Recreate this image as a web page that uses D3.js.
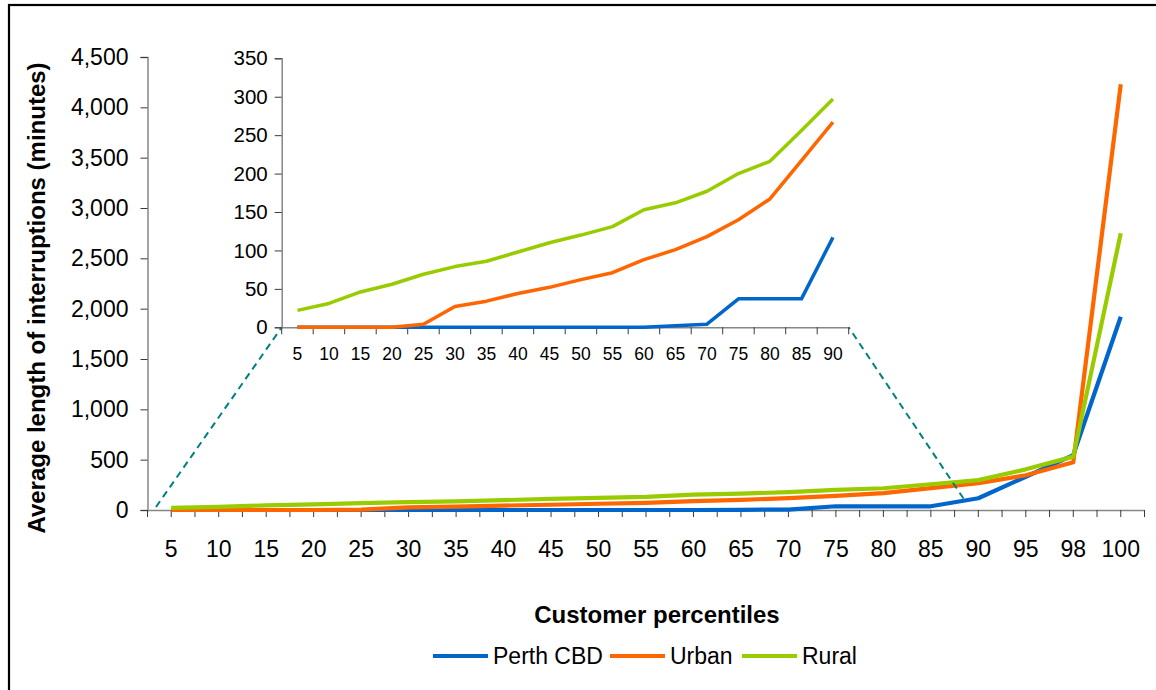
<!DOCTYPE html>
<html>
<head>
<meta charset="utf-8">
<script src="https://cdn.jsdelivr.net/npm/d3@7"></script>
<style>
  body { margin: 0; background: #fff; }
  svg { display: block; font-family: "Liberation Sans", Arial, sans-serif; }
</style>
</head>
<body>
<svg id="chart" width="1156" height="690"></svg>
<script>
// Customer percentiles (x categories)
const percentiles = ["5","10","15","20","25","30","35","40","45","50","55","60","65","70","75","80","85","90","95","98","100"];
// Average length of interruptions, minutes
const perthCBD = [0,0,0,0,0,0,0,0,0,0,0,0,2,4,37,37,37,117,330,546,1920];
const urban    = [0,0,0,0,4,27,34,44,52,62,71,88,101,118,140,167,217,267,345,474,4230];
const rural    = [22,31,46,56,69,79,86,98,110,120,131,153,162,177,200,216,256,297,404,530,2749];

const mainTicks  = [0,500,1000,1500,2000,2500,3000,3500,4000,4500];
const insetTicks = [0,50,100,150,200,250,300,350];
const insetCount = 18; // zoomed view covers percentiles 5 to 90

const series = [
  { name: "Perth CBD", values: perthCBD, color: "#0066CC" },
  { name: "Urban",     values: urban,    color: "#FF6600" },
  { name: "Rural",     values: rural,    color: "#99CC00" }
];

const svg = d3.select("#chart");
const axisGrey = "#868686";
const tickDark = "#3a3a3a";

// outer frame
svg.append("rect").attr("x", 9).attr("y", 5).attr("width", 1300).attr("height", 900)
  .attr("fill", "none").attr("stroke", "#000").attr("stroke-width", 2.2);

// ---------- main chart ----------
const x = d3.scaleBand().domain(percentiles).range([147.5, 1144.5]).padding(0);
const y = d3.scaleLinear().domain([0, 4500]).range([510, 57]);
const cx = d => x(d) + x.bandwidth() / 2;

const main = svg.append("g");

// y axis
const yAx = main.append("g").attr("transform", `translate(${x.range()[0]},0)`)
  .call(d3.axisLeft(y).tickValues(mainTicks).tickFormat(d3.format(",")).tickSize(7).tickPadding(12));
yAx.select(".domain").attr("stroke", axisGrey).attr("stroke-width", 1.5);
yAx.selectAll(".tick line").attr("stroke", tickDark);
yAx.selectAll("text").attr("font-size", 23).attr("fill", "#000").attr("font-family", "Liberation Sans, Arial, sans-serif");

// x axis: ticks at category centres and boundaries
const xAx = main.append("g").attr("transform", `translate(0,${y(0)})`)
  .call(d3.axisBottom(x).tickSize(0).tickPadding(31));
xAx.select(".domain").attr("stroke", axisGrey).attr("stroke-width", 1.5);
xAx.selectAll("text").attr("font-size", 23).attr("fill", "#000").attr("font-family", "Liberation Sans, Arial, sans-serif");
const tickPos = [];
percentiles.forEach(p => { tickPos.push(x(p)); tickPos.push(cx(p)); });
tickPos.push(x.range()[1]);
main.append("g").selectAll("line").data(tickPos).join("line")
  .attr("x1", d => d).attr("x2", d => d).attr("y1", y(0)).attr("y2", y(0) + 7)
  .attr("stroke", tickDark).attr("stroke-width", 1);

// series lines
const lineMain = d3.line().x((d, i) => cx(percentiles[i])).y(d => y(d));
main.selectAll("path.series").data(series).join("path")
  .attr("class", "series")
  .attr("d", s => lineMain(s.values))
  .attr("fill", "none").attr("stroke", s => s.color)
  .attr("stroke-width", 4.2).attr("stroke-linejoin", "round");

// ---------- inset (percentiles 5 to 90) ----------
const insetCats = percentiles.slice(0, insetCount);
const xi = d3.scaleBand().domain(insetCats).range([281.7, 848.7]).padding(0);
const yi = d3.scaleLinear().domain([0, 350]).range([327.3, 58.3]);
const cxi = d => xi(d) + xi.bandwidth() / 2;

const inset = svg.append("g");

// connector lines from the main axis to the inset
const conn = [
  [[156, 507], [xi.range()[0], yi(0)]],
  [[963.5, 498.5], [xi.range()[1], yi(0)]]
];
inset.selectAll("line.conn").data(conn).join("line")
  .attr("class", "conn")
  .attr("x1", d => d[0][0]).attr("y1", d => d[0][1])
  .attr("x2", d => d[1][0]).attr("y2", d => d[1][1])
  .attr("stroke", "#008080").attr("stroke-width", 2).attr("stroke-dasharray", "7,5");

const yiAx = inset.append("g").attr("transform", `translate(${xi.range()[0]},0)`)
  .call(d3.axisLeft(yi).tickValues(insetTicks).tickSize(7).tickPadding(7));
yiAx.select(".domain").attr("stroke", axisGrey).attr("stroke-width", 1.5);
yiAx.selectAll(".tick line").attr("stroke", tickDark);
yiAx.selectAll("text").attr("font-size", 20.5).attr("fill", "#000").attr("font-family", "Liberation Sans, Arial, sans-serif");

const xiAx = inset.append("g").attr("transform", `translate(0,${yi(0)})`)
  .call(d3.axisBottom(xi).tickSize(0).tickPadding(20));
xiAx.select(".domain").attr("stroke", axisGrey).attr("stroke-width", 1.5);
xiAx.selectAll("text").attr("font-size", 17.5).attr("fill", "#000").attr("font-family", "Liberation Sans, Arial, sans-serif");
const insetTickPos = insetCats.map(p => xi(p)).concat([xi.range()[1]]);
inset.append("g").selectAll("line").data(insetTickPos).join("line")
  .attr("x1", d => d).attr("x2", d => d).attr("y1", yi(0)).attr("y2", yi(0) + 7)
  .attr("stroke", tickDark).attr("stroke-width", 1);

const lineInset = d3.line().x((d, i) => cxi(insetCats[i])).y(d => yi(d));
inset.selectAll("path.series").data(series).join("path")
  .attr("class", "series")
  .attr("d", s => lineInset(s.values.slice(0, insetCount)))
  .attr("fill", "none").attr("stroke", s => s.color)
  .attr("stroke-width", 3.5).attr("stroke-linejoin", "round");

// ---------- titles ----------
svg.append("text")
  .attr("transform", "translate(45,298) rotate(-90)")
  .attr("text-anchor", "middle").attr("font-weight", "bold").attr("font-size", 24)
  .text("Average length of interruptions (minutes)");

svg.append("text")
  .attr("x", 657).attr("y", 623)
  .attr("text-anchor", "middle").attr("font-weight", "bold").attr("font-size", 24)
  .text("Customer percentiles");

// ---------- legend ----------
const legendX = [433, 610, 742];
const lg = svg.append("g").selectAll("g").data(series).join("g")
  .attr("transform", (d, i) => `translate(${legendX[i]},656)`);
lg.append("line").attr("x1", 0).attr("x2", 55).attr("y1", 0).attr("y2", 0)
  .attr("stroke", d => d.color).attr("stroke-width", 4.2);
lg.append("text").attr("x", 60).attr("y", 8).attr("font-size", 23)
  .text(d => d.name);
</script>
</body>
</html>
